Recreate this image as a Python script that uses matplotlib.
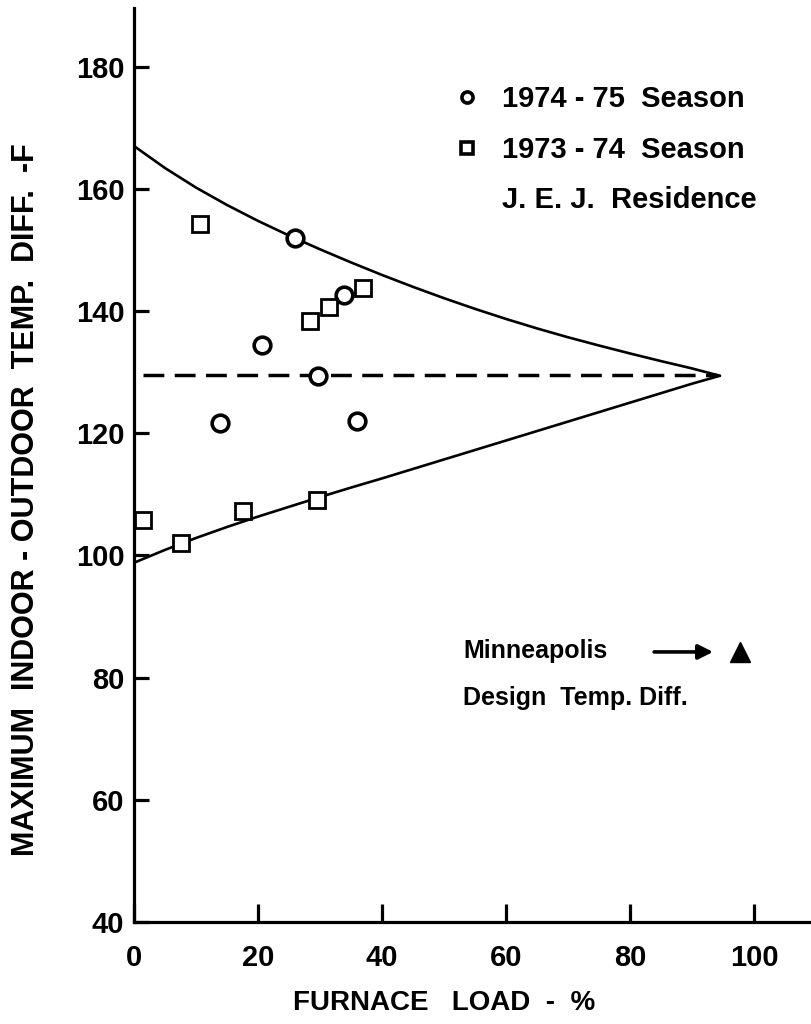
import matplotlib
matplotlib.use("Agg")
import matplotlib.pyplot as plt
from matplotlib.lines import Line2D

plt.rcParams['font.family'] = ['Liberation Sans', 'DejaVu Sans']
plt.rcParams['font.weight'] = 'bold'

# ---- data ----
circ_x = [25.9, 20.6, 13.9, 29.7, 33.9, 35.9]
circ_y = [151.9, 134.5, 121.6, 129.4, 142.7, 122.0]

sq_x = [10.6, 1.5, 7.5, 17.6, 29.5, 28.4, 31.5, 37.0]
sq_y = [154.2, 105.8, 102.1, 107.2, 109.0, 138.4, 140.7, 143.8]

upper_x = [0, 5, 10, 15, 20, 25, 30, 35, 40, 45, 50, 55, 60, 65, 70, 75, 80, 85, 90, 94.5]
upper_y = [167.0, 163.4, 160.2, 157.35, 154.75, 152.35, 150.1, 147.95, 145.9, 143.95,
           142.1, 140.35, 138.7, 137.15, 135.7, 134.35, 133.05, 131.8, 130.6, 129.4]
lower_x = [0, 5, 10, 15, 20, 25, 30, 35, 40, 45, 50, 55, 60, 65, 70, 75, 80, 85, 90, 94.5]
lower_y = [98.8, 100.9, 102.85, 104.65, 106.35, 107.95, 109.55, 111.1, 112.6, 114.15,
           115.7, 117.25, 118.8, 120.35, 121.9, 123.45, 125.0, 126.55, 128.1, 129.4]

dash_x = [1.5, 94.0]
dash_y = [129.5, 129.5]

design_x = [97.7]
design_y = [84.2]

xticks = [0, 20, 40, 60, 80, 100]
yticks = [40, 60, 80, 100, 120, 140, 160, 180]

W, H = 811, 1024
fig = plt.figure(figsize=(W / 100, H / 100), dpi=100)
left, right, bottom, top = 134, 811, 922, 8
ax = fig.add_axes([left / W, (H - bottom) / H, (right - left) / W, (bottom - top) / H])
ax.set_xlim(0, (right - left) / 6.2)
ax.set_ylim(40, 40 + (bottom - top) / 6.11)

for s in ['top', 'right']:
    ax.spines[s].set_visible(False)
for s in ['left', 'bottom']:
    ax.spines[s].set_linewidth(2.3)

ax.set_xticks(xticks)
ax.set_yticks(yticks)
ax.set_xticklabels([str(v) for v in xticks])
ax.set_yticklabels([str(v) for v in yticks])
ax.tick_params(axis='y', direction='in', length=11, width=2.3, pad=7, labelsize=21)
ax.tick_params(axis='x', direction='in', length=13, width=2.3, pad=16, labelsize=21)

# curves
ax.plot(upper_x, upper_y, color='k', lw=1.9, solid_capstyle='round', solid_joinstyle='round')
ax.plot(lower_x, lower_y, color='k', lw=1.9, solid_capstyle='round', solid_joinstyle='round')
ax.plot(dash_x, dash_y, color='k', lw=2.5, dashes=(6, 3))

# data points
ax.plot(circ_x, circ_y, ls='none', marker='o', ms=12, mfc='white', mec='k', mew=2.6, zorder=5)
ax.plot(sq_x, sq_y, ls='none', marker='s', ms=11, mfc='white', mec='k', mew=2.0, zorder=5)

# design point
ax.plot(design_x, design_y, ls='none', marker='^', ms=15, color='k', zorder=5)
ax.annotate('', xy=(design_x[0] - 4.3, design_y[0]), xytext=(design_x[0] - 13.8, design_y[0]),
            arrowprops=dict(arrowstyle='-|>', lw=2.6, color='k', mutation_scale=22,
                            shrinkA=0, shrinkB=0))
ax.text(53.1, 84.4, 'Minneapolis', fontsize=18, fontweight='bold', va='center', ha='left')
ax.text(53.1, 76.7, 'Design  Temp. Diff.', fontsize=18, fontweight='bold', va='center', ha='left')

# legend
handles = [
    Line2D([], [], ls='none', marker='o', ms=8, mfc='white', mec='k', mew=2.6),
    Line2D([], [], ls='none', marker='s', ms=8, mfc='white', mec='k', mew=2.6),
    Line2D([], [], ls='none'),
]
labels = ['1974 - 75  Season', '1973 - 74  Season', 'J. E. J.  Residence']
leg = fig.legend(handles, labels, loc='upper left', bbox_to_anchor=(452 / W, 1 - 85 / H),
                 frameon=False, fontsize=21, handlelength=1.0, handletextpad=0.7,
                 labelspacing=0.78, borderpad=0, borderaxespad=0)
for t in leg.get_texts():
    t.set_fontweight('bold')

fig.text(26 / W, 1 - 500 / H, 'MAXIMUM  INDOOR - OUTDOOR  TEMP.  DIFF.  -F',
         rotation=90, ha='center', va='center', fontsize=22, fontweight='bold')
fig.text(444 / W, 1 - 1003 / H, 'FURNACE   LOAD  -  %', ha='center', va='center',
         fontsize=20, fontweight='bold')

fig.savefig('out.png', dpi=100)
